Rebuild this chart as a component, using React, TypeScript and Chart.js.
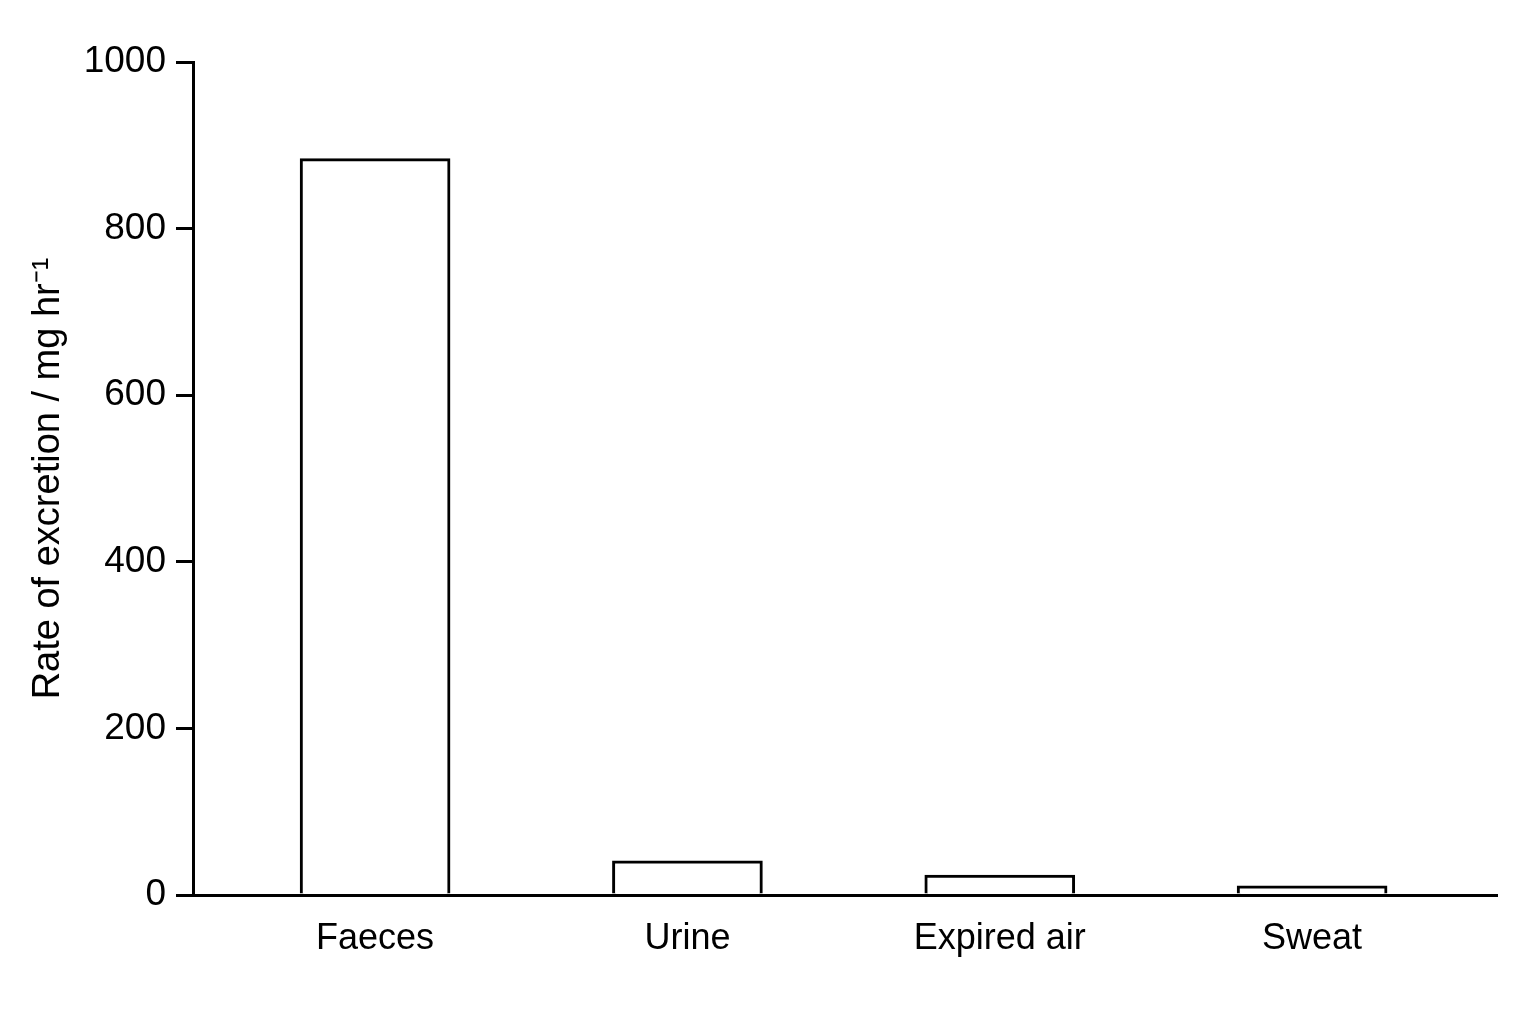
import {useEffect, useRef} from "react";
import {Chart, registerables} from "chart.js";

Chart.register(...registerables);

const categories = ["Faeces", "Urine", "Expired air", "Sweat"];
const rates = [884, 41, 24, 11];
const yTicks = [0, 200, 400, 600, 800, 1000];
const yTitle = "Rate of excretion / mg hr\u207B\u00B9";

const FONT = "'Liberation Sans', Arial, Helvetica, sans-serif";

export default function App() {
  const chartRef = useRef<HTMLCanvasElement>(null);
  const chartInstance = useRef<Chart | null>(null);

  useEffect(() => {
    document.body.style.margin = "0";
    if (!chartRef.current) return;
    if (chartInstance.current) chartInstance.current.destroy();

    const ctx = chartRef.current.getContext("2d");
    if (!ctx) return;

    chartInstance.current = new Chart(ctx, {
      type: "bar",
      data: {
        datasets: [
          {
            data: rates.map((v, i) => ({x: i, y: v})),
            backgroundColor: "#ffffff",
            borderColor: "#000000",
            borderWidth: 3,
            barThickness: 150,
          },
        ],
      },
      options: {
        animation: false,
        responsive: true,
        maintainAspectRatio: false,
        layout: {padding: {top: 62, right: 39, left: 0, bottom: 0}},
        plugins: {legend: {display: false}, tooltip: {enabled: false}},
        scales: {
          x: {
            type: "linear",
            offset: false,
            min: -0.583,
            max: 3.592,
            afterBuildTicks: scale => {
              scale.ticks = categories.map((_, i) => ({value: i}));
            },
            afterFit: scale => {
              scale.height = 129;
            },
            ticks: {
              color: "#000",
              font: {family: FONT, size: 36},
              padding: 22,
              autoSkip: false,
              maxRotation: 0,
              callback: v => categories[Number(v)] ?? "",
            },
            grid: {display: false, drawTicks: false},
            border: {display: true, color: "#000", width: 3},
          },
          y: {
            min: 0,
            max: 1000,
            afterBuildTicks: scale => {
              scale.ticks = yTicks.map(v => ({value: v}));
            },
            afterFit: scale => {
              scale.width = 193;
            },
            ticks: {
              color: "#000",
              font: {family: FONT, size: 37},
              padding: 10,
              callback: v => String(v),
            },
            grid: {
              display: true,
              drawOnChartArea: false,
              drawTicks: true,
              tickLength: 17,
              color: "#000",
              lineWidth: 3,
            },
            border: {display: true, color: "#000", width: 3},
            title: {
              display: true,
              text: yTitle,
              color: "#000",
              font: {family: FONT, size: 38},
              padding: {top: 26, bottom: 0},
            },
          },
        },
      },
    });

    return () => {
      if (chartInstance.current) {
        chartInstance.current.destroy();
        chartInstance.current = null;
      }
    };
  }, []);

  return (
    <div style={{width: 1536, height: 1024, position: "relative", background: "#fff"}}>
      <canvas ref={chartRef} />
    </div>
  );
}
